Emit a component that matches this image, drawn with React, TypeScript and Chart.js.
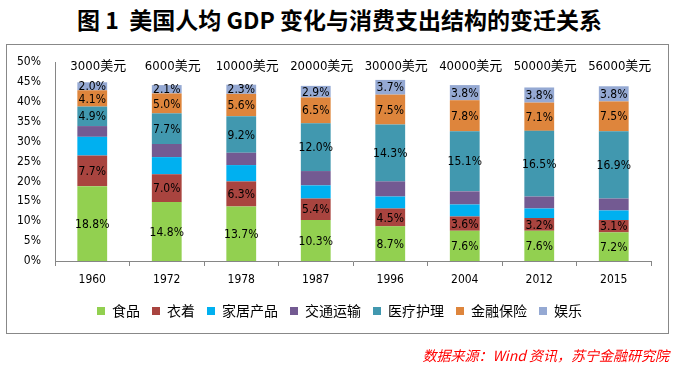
import React, { useEffect, useRef } from 'react';
import { Chart, registerables } from 'chart.js';

Chart.register(...registerables);

const years = ['1960', '1972', '1978', '1987', '1996', '2004', '2012', '2015'];
const gdpLabels = ['3000美元', '6000美元', '10000美元', '20000美元', '30000美元', '40000美元', '50000美元', '56000美元'];

const seriesNames = ['食品', '衣着', '家居产品', '交通运输', '医疗护理', '金融保险', '娱乐'];
const food = [18.8, 14.8, 13.7, 10.3, 8.7, 7.6, 7.6, 7.2];
const clothing = [7.7, 7.0, 6.3, 5.4, 4.5, 3.6, 3.2, 3.1];
const household = [4.7, 4.3, 4.1, 3.3, 3.0, 3.0, 2.4, 2.4];
const transport = [2.7, 3.3, 3.1, 3.6, 3.8, 3.3, 3.0, 3.0];
const medical = [4.9, 7.7, 9.2, 12.0, 14.3, 15.1, 16.5, 16.9];
const finance = [4.1, 5.0, 5.6, 6.5, 7.5, 7.8, 7.1, 7.5];
const entertainment = [2.0, 2.1, 2.3, 2.9, 3.7, 3.8, 3.8, 3.8];
const showLabels = [true, true, false, false, true, true, true];
const colors = ['#92D050', '#A9443F', '#00B0F0', '#735A92', '#4198AF', '#DE853C', '#95A9D3'];

const yTicks = [0, 5, 10, 15, 20, 25, 30, 35, 40, 45, 50];

const NUM = '"DejaVu Sans Condensed", "DejaVu Sans", "Noto Sans CJK SC", sans-serif';
const CJK = '"Noto Sans CJK SC", sans-serif';

export default function App() {
  const ref = useRef<HTMLCanvasElement>(null);

  useEffect(() => {
    if (!ref.current) return;
    const labelPlugin = {
      id: 'segLabels',
      afterDatasetsDraw(chart: any) {
        const ctx = chart.ctx;
        ctx.save();
        ctx.fillStyle = '#000';
        ctx.textAlign = 'center';
        ctx.textBaseline = 'middle';
        ctx.font = `12px ${NUM}`;
        chart.data.datasets.forEach((ds: any, di: number) => {
          if (!showLabels[di]) return;
          const meta = chart.getDatasetMeta(di);
          meta.data.forEach((el: any, i: number) => {
            const { x, y, base } = el.getProps(['x', 'y', 'base'], true);
            ctx.fillText(Number(ds.data[i]).toFixed(1) + '%', x, (y + base) / 2 + 1);
          });
        });
        ctx.font = `13px ${NUM}`;
        const xs = chart.scales.x;
        gdpLabels.forEach((t, i) => {
          ctx.fillText(t, xs.getPixelForValue(i) + 6, chart.chartArea.top + 5);
        });
        ctx.restore();
      },
    };

    const mk = (data: number[], i: number) => ({
      label: seriesNames[i],
      data,
      backgroundColor: colors[i],
      borderWidth: 0,
      categoryPercentage: 1,
      barPercentage: 0.4,
    });

    const chart = new Chart(ref.current, {
      type: 'bar',
      data: {
        labels: years,
        datasets: [
          mk(food, 0),
          mk(clothing, 1),
          mk(household, 2),
          mk(transport, 3),
          mk(medical, 4),
          mk(finance, 5),
          mk(entertainment, 6),
        ],
      },
      options: {
        responsive: false,
        animation: false,
        layout: { padding: { top: 62, left: 14, right: 10, bottom: 37 } },
        plugins: {
          tooltip: { enabled: false },
          legend: {
            position: 'bottom',
            labels: {
              font: { family: CJK, size: 14 },
              color: '#000',
              boxWidth: 8,
              boxHeight: 8,
              padding: 12,
            },
          },
        },
        scales: {
          x: {
            stacked: true,
            grid: { display: true, drawOnChartArea: false, drawTicks: true, tickLength: 5, color: '#868686', offset: true },
            border: { display: true, color: '#868686' },
            ticks: { font: { family: NUM, size: 12 }, color: '#000', padding: 7, maxRotation: 0 },
            afterFit: (s: any) => { s.height = 31; },
          },
          y: {
            stacked: true,
            min: 0,
            max: 50,
            afterBuildTicks: (s: any) => { s.ticks = yTicks.map((v) => ({ value: v })); },
            grid: { display: false, drawTicks: false },
            border: { display: true, color: '#868686' },
            ticks: { font: { family: NUM, size: 12 }, color: '#000', padding: 14, callback: (v: any) => v + '%' },
            afterFit: (s: any) => { s.width = 41; },
          },
          y2: {
            position: 'right',
            display: true,
            grid: { display: false, drawTicks: false },
            border: { display: false },
            ticks: { display: false },
            afterFit: (s: any) => { s.width = 14; },
          },
        },
      },
      plugins: [labelPlugin],
    } as any);
    return () => chart.destroy();
  }, []);

  return (
    <div style={{ position: 'fixed', left: 0, top: 0, width: 675, height: 365, background: '#fff' }}>
      <div
        style={{
          position: 'absolute', left: 0, top: 5, width: 679, textAlign: 'center',
          fontFamily: CJK, fontWeight: 'bold', fontSize: 23, lineHeight: '28px', color: '#000', whiteSpace: 'pre',
        }}
      >
        {'图 1  美国人均 GDP 变化与消费支出结构的变迁关系'}
      </div>
      <div
        style={{
          position: 'absolute', left: 6, top: 44, width: 661, height: 288,
          border: '1px solid #888', boxSizing: 'content-box',
        }}
      />
      <canvas ref={ref} width={675} height={365} style={{ position: 'absolute', left: 0, top: 0, width: 675, height: 365 }} />
      <div
        style={{
          position: 'absolute', right: 6, top: 346, fontFamily: CJK, fontStyle: 'italic',
          fontSize: 14, lineHeight: '18px', color: '#FF0000', whiteSpace: 'pre',
        }}
      >
        {'数据来源：Wind 资讯，苏宁金融研究院'}
      </div>
    </div>
  );
}
